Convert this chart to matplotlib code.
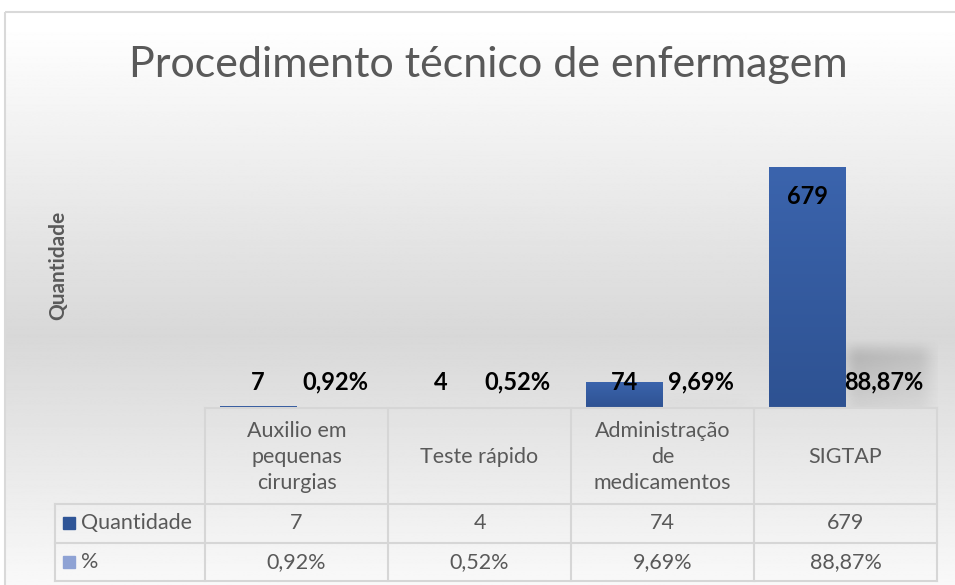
import numpy as np
import matplotlib
matplotlib.use("Agg")
import matplotlib.pyplot as plt
from matplotlib.patches import Rectangle
from matplotlib.lines import Line2D
from matplotlib.colors import LinearSegmentedColormap
from matplotlib.transforms import blended_transform_factory

categorias = ["Auxilio em\npequenas\ncirurgias", "Teste rápido",
              "Administração\nde\nmedicamentos", "SIGTAP"]
quantidade = [7, 4, 74, 679]
percentual = [0.92, 0.52, 9.69, 88.87]
series = ["Quantidade", "%"]

plt.rcParams['font.family'] = ['Lato', 'DejaVu Sans']
W, H = 955, 585
cinza = '#595959'
azul = '#2f5597'
azul_claro = '#8ea2d4'


def fx(px):
    return px / W


def fy(py):
    return 1 - py / H


def fmt_pct(p):
    return f"{p:.2f}".replace('.', ',') + '%'


fig = plt.figure(figsize=(W / 100, H / 100), dpi=100)
fig.patch.set_facecolor('white')

# fundo com degrade
bg = fig.add_axes([0, 0, 1, 1], zorder=-5)
rows = np.arange(H)
g = np.interp(rows, [12, 330, 585], [255, 216, 249]) / 255
bg.imshow(np.tile(g[:, None], (1, 2)), cmap='gray', vmin=0, vmax=1,
          extent=[5, W + 5, H, 12], aspect='auto')
bg.add_patch(Rectangle((5, 12), W + 10, H, fill=False, ec='#d9d9d9', lw=1.5))
bg.set_xlim(0, W)
bg.set_ylim(H, 0)
bg.axis('off')

# area do grafico
ax = fig.add_axes([fx(205), fy(408), fx(937) - fx(205), (408 - 124) / H])
ax.patch.set_alpha(0)
x = np.arange(len(quantidade))
w = 0.42
ymax = 800
ax.set_xlim(-0.5, 3.5)
ax.set_ylim(0, ymax)
ax.axis('off')

px_x = 732 / 4  # pixels por categoria
px_y = 284 / ymax  # pixels por unidade

cmap_barra = LinearSegmentedColormap.from_list('b', ['#2e5292', '#3b64ad'])
grad = np.linspace(0, 1, 100)[:, None]
bars = ax.bar(x - w / 2, quantidade, w, color='#3459a0', zorder=2)
for b in bars:
    im = ax.imshow(grad, cmap=cmap_barra, origin='lower', aspect='auto',
                   extent=[b.get_x(), b.get_x() + b.get_width(), 0, b.get_height()],
                   zorder=3)
    im.set_clip_path(b)

# sombra desfocada das barras de %
for xi, p in zip(x, percentual):
    x0, x1 = xi, xi + w + 0.04
    htop = p * 1.9
    s_x = 14 / px_x
    s_y = 12 / px_y
    gx = np.linspace(x0 - s_x, x1 + s_x, 120)
    gy = np.linspace(0, htop + s_y, 120)
    rx = np.clip((gx - x0) / (2 * s_x) + 0.5, 0, 1) * np.clip((x1 - gx) / (2 * s_x) + 0.5, 0, 1)
    ry = np.clip((htop - gy) / (2 * s_y) + 0.5, 0, 1)
    rx = rx * rx * (3 - 2 * rx)
    ry = ry * ry * (3 - 2 * ry)
    ry = ry * (0.35 + 0.65 * np.clip(gy / max(htop, 1e-6), 0, 1))
    rx = rx * (1.0 - 0.35 * np.clip((gx - x0) / (x1 - x0), 0, 1))
    forca = min(1.0, htop * px_y / 45)
    img = np.zeros((120, 120, 4))
    img[..., :3] = 0.45
    img[..., 3] = ry[:, None] * rx[None, :] * 0.4 * forca
    ax.imshow(img, origin='lower', aspect='auto',
              extent=[gx[0], gx[-1], 0, gy[-1]], zorder=1)

ax.set_xlim(-0.5, 3.5)
ax.set_ylim(0, ymax)

# rotulos de dados
for xi, q, p in zip(x, quantidade, percentual):
    ax.text(xi - w / 2, max(q - 30 / px_y, 26 / px_y), str(q), ha='center', va='center',
            fontsize=17, fontweight='bold', color='black', zorder=5)
    ax.text(xi + w / 2, max(p - 30 / px_y, 26 / px_y), fmt_pct(p), ha='center', va='center',
            fontsize=17, fontweight='bold', color='black', zorder=5)

fig.text(fx(488), fy(65), "Procedimento técnico de enfermagem", ha='center', va='center',
         fontsize=31, color=cinza)
fig.text(fx(58), fy(265), "Quantidade", rotation=90, ha='center', va='center',
         fontsize=15, fontweight='bold', color=cinza)

# tabela de dados
tr = blended_transform_factory(ax.transData, fig.transFigure)
inv = fig.transFigure.inverted()
x_right = inv.transform(ax.transData.transform((3.5, 0)))[0]
lc = '#d6d6d6'
for xe in np.arange(-0.5, 4, 1.0):
    fig.add_artist(Line2D([xe, xe], [fy(408), fy(581)], transform=tr, color=lc, lw=1.5))
fig.add_artist(Line2D([fx(55), fx(55)], [fy(504), fy(581)], color=lc, lw=1.5))
fig.add_artist(Line2D([-0.5, 3.5], [fy(408), fy(408)], transform=tr, color=lc, lw=1.5))
for yy in [504, 543, 581]:
    fig.add_artist(Line2D([fx(55), x_right], [fy(yy), fy(yy)], color=lc, lw=1.5))

fs = 15.5
for xi, c in zip(x, categorias):
    fig.text(xi, fy(457), c, transform=tr, ha='center', va='center', fontsize=fs,
             color=cinza, linespacing=1.35)
for xi, q, p in zip(x, quantidade, percentual):
    fig.text(xi, fy(523), str(q), transform=tr, ha='center', va='center', fontsize=fs, color=cinza)
    fig.text(xi, fy(562), fmt_pct(p), transform=tr, ha='center', va='center', fontsize=fs, color=cinza)

for yy, nome, cor in zip([523, 562], series, [azul, azul_claro]):
    fig.add_artist(Rectangle((fx(63), fy(yy + 6)), 12 / W, 12 / H, color=cor))
    fig.text(fx(81), fy(yy), nome, ha='left', va='center', fontsize=fs, color=cinza)

fig.savefig('out.png', dpi=100)
